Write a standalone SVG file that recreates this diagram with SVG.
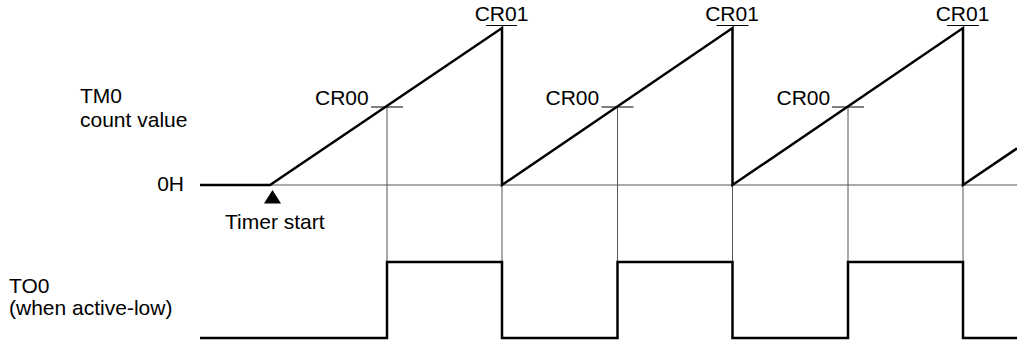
<svg xmlns="http://www.w3.org/2000/svg" width="1017" height="343" viewBox="0 0 1017 343">
<style>
text{font-family:"Liberation Sans",Arial,sans-serif;font-size:21px;fill:#000}
.thick{fill:none;stroke:#000;stroke-width:2.5;stroke-linejoin:miter;stroke-linecap:butt}
.thin{fill:none;stroke:#555;stroke-width:1}
.tick{fill:none;stroke:#000;stroke-width:1}
</style>
<rect width="1017" height="343" fill="#fff"/>
<g id="labels">
<text x="80" y="103">TM0</text>
<text x="80" y="127">count value</text>
<text x="184" y="191" text-anchor="end">0H</text>
<text x="225" y="229">Timer start</text>
<text x="9" y="293">TO0</text>
<text x="9" y="315">(when active-low)</text>
</g>
<g id="connectors">
<path class="thin" d="M270 185H1017"/>
<path class="thin" d="M387 107V262M617.5 107V262M848 107V262"/>
<path class="thin" d="M502 185V262M732.5 185V262M963 185V262"/>
<path class="tick" d="M371 107H403M601.5 107H633.5M832 107H864"/>
<path class="tick" d="M486 25.5H517M716.5 25.5H748.5M947 25.5H979"/>
<path class="thick" d="M200 185H270L502 28V185L732.5 28V185L963 28V185L1017 148.4"/>
<path class="thick" d="M200 338H387V262H502V338H617.5V262H732.5V338H848V262H963V338H1017"/>
</g>
<g id="timer-start">
<polygon points="272.5,190 264,203.5 281,203.5" fill="#000"/>
</g>
<g id="cr-labels">
<text x="315" y="105">CR00</text>
<text x="545.5" y="105">CR00</text>
<text x="776.5" y="105">CR00</text>
<text x="501.5" y="21" text-anchor="middle">CR01</text>
<text x="732" y="21" text-anchor="middle">CR01</text>
<text x="962.5" y="21" text-anchor="middle">CR01</text>
</g>
</svg>
